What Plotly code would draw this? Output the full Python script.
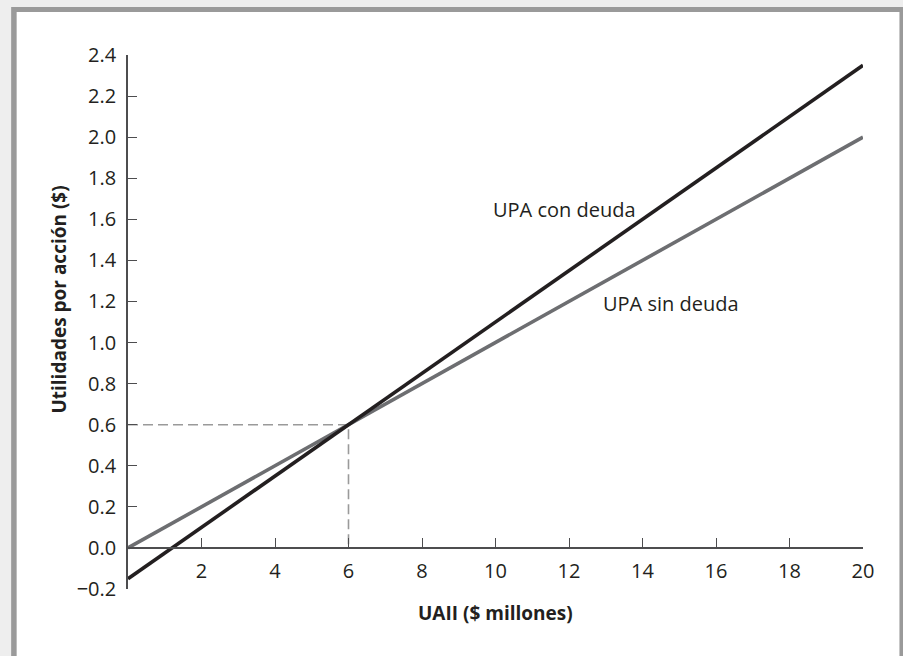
import plotly.graph_objects as go

# Data
uaii = [0, 20]
upa_con_deuda = [-0.15, 2.35]
upa_sin_deuda = [0.0, 2.0]
equilibrio_x = [0, 6, 6]
equilibrio_y = [0.6, 0.6, 0.0]
x_ticks = [2, 4, 6, 8, 10, 12, 14, 16, 18, 20]
y_ticks = [-0.2, 0.0, 0.2, 0.4, 0.6, 0.8, 1.0, 1.2, 1.4, 1.6, 1.8, 2.0, 2.2, 2.4]
label_con = ("UPA con deuda", 11.89, 1.646)
label_sin = ("UPA sin deuda", 14.78, 1.188)

W, H = 903, 656
L, R, T, B = 127.5, 39.5, 55, 67
PW, PH = W - L - R, H - T - B

def px_x(p):
    return (p - L) / PW

def px_y(p):
    return (H - B - p) / PH

TXT = "#231f20"
FONT = "Open Sans"

fig = go.Figure()
fig.add_trace(go.Scatter(x=equilibrio_x, y=equilibrio_y, mode="lines",
                         line=dict(color="#9a9a9a", width=1.6, dash="10px,5px"),
                         hoverinfo="skip", showlegend=False))
fig.add_trace(go.Scatter(x=uaii, y=upa_sin_deuda, mode="lines",
                         line=dict(color="#6d6e71", width=3.6), showlegend=False))
fig.add_trace(go.Scatter(x=uaii, y=upa_con_deuda, mode="lines",
                         line=dict(color="#231f20", width=3.6), showlegend=False))

shapes = [
    dict(type="rect", xref="paper", yref="paper", layer="below",
         x0=px_x(10.5), x1=px_x(910), y0=px_y(7), y1=px_y(700),
         fillcolor="#9a9a9a", line=dict(width=0)),
    dict(type="rect", xref="paper", yref="paper", layer="below",
         x0=px_x(16), x1=px_x(900), y0=px_y(12), y1=px_y(700),
         fillcolor="#ffffff", line=dict(width=0)),
]

annotations = [
    dict(x=label_con[1], y=label_con[2], text=label_con[0], showarrow=False,
         xanchor="center", yanchor="middle",
         font=dict(family=FONT, size=20, color=TXT)),
    dict(x=label_sin[1], y=label_sin[2], text=label_sin[0], showarrow=False,
         xanchor="center", yanchor="middle",
         font=dict(family=FONT, size=20, color=TXT)),
    dict(xref="paper", yref="paper", x=px_x(495), y=px_y(613),
         xanchor="center", yanchor="middle",
         text="<b>UAII ($ millones)</b>", showarrow=False,
         font=dict(family=FONT, size=19, color=TXT)),
    dict(xref="paper", yref="paper", x=px_x(58), y=px_y(300),
         xanchor="center", yanchor="middle",
         text="<b>Utilidades por acción ($)</b>", showarrow=False, textangle=-90,
         font=dict(family=FONT, size=19, color=TXT)),
]

fig.update_layout(
    width=W, height=H,
    margin=dict(l=L, r=R, t=T, b=B, pad=0),
    paper_bgcolor="#eeeeee",
    plot_bgcolor="rgba(0,0,0,0)",
    shapes=shapes,
    annotations=annotations,
    font=dict(family=FONT, size=20, color=TXT),
    xaxis=dict(range=[0, 20], tickvals=x_ticks, ticktext=[str(v) for v in x_ticks],
               anchor="free", position=0.2 / 2.6,
               showline=True, linecolor="#4d4d4f", linewidth=1.6,
               ticks="inside", ticklen=9, tickwidth=1.4, tickcolor="#4d4d4f",
               ticklabelstandoff=5,
               showgrid=False, zeroline=False,
               tickfont=dict(family=FONT, size=20, color=TXT)),
    yaxis=dict(range=[-0.2, 2.4], tickvals=y_ticks,
               ticktext=[f"{v:.1f}".replace("-", "\u2212") for v in y_ticks],
               showline=True, linecolor="#4d4d4f", linewidth=1.6,
               ticks="inside", ticklen=9, tickwidth=1.4, tickcolor="#4d4d4f",
               ticklabelstandoff=6,
               showgrid=False, zeroline=False,
               tickfont=dict(family=FONT, size=20, color=TXT)),
)

fig.write_html("out.html",
               config={"displayModeBar": False},
               post_script="document.body.style.margin='0';document.body.style.overflow='hidden';")
